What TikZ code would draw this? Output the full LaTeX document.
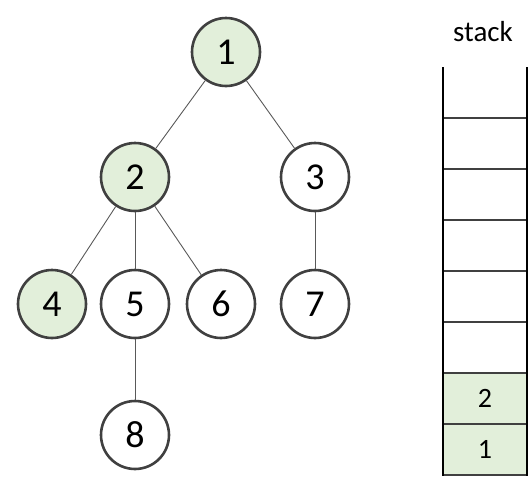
\documentclass[tikz,border=0pt]{standalone}
\usepackage{fontspec}
\setmainfont{Carlito}
\definecolor{vis}{HTML}{E2EFDA}
\definecolor{rim}{HTML}{404040}
\definecolor{edge}{HTML}{595959}
\begin{document}
\begin{tikzpicture}[x=1pt,y=-1pt,
  vert/.style={circle,draw=rim,line width=2.6pt,minimum size=68pt,inner sep=0pt,fill=white,font=\fontsize{38}{38}\selectfont},
  seen/.style={vert,fill=vis},
  tree/.style={draw=edge,line width=0.9pt},
  cell/.style={draw=none,minimum width=84pt,minimum height=51pt,inner sep=0pt,font=\fontsize{28}{28}\selectfont},
  rung/.style={draw=rim,line width=1.6pt},
  rail/.style={draw=black,line width=2.2pt}]
\useasboundingbox (0,0) rectangle (532,480);
\node[seen] (n1) at (226,52) {1};
\node[seen] (n2) at (135,177) {2};
\node[vert] (n3) at (315,177) {3};
\node[seen] (n4) at (52,304) {4};
\node[vert] (n5) at (135,304) {5};
\node[vert] (n6) at (221,304) {6};
\node[vert] (n7) at (315,304) {7};
\node[vert] (n8) at (135,435) {8};
\draw[tree] (n1) -- (n2);
\draw[tree] (n1) -- (n3);
\draw[tree] (n2) -- (n4);
\draw[tree] (n2) -- (n5);
\draw[tree] (n2) -- (n6);
\draw[tree] (n3) -- (n7);
\draw[tree] (n5) -- (n8);
% stack
\node[font=\fontsize{29}{29}\selectfont] (lbl) at (483,32) {stack};
\node[cell,fill=vis] (s2) at (485,398.5) {2};
\node[cell,fill=vis] (s1) at (485,449.5) {1};
\foreach \yy in {118,169,220,271,322,373,424,475}
  \draw[rung] (443,\yy) -- (527,\yy);
\draw[rail] (443,67) -- (443,476);
\draw[rail] (527,67) -- (527,476);
\end{tikzpicture}
\end{document}
